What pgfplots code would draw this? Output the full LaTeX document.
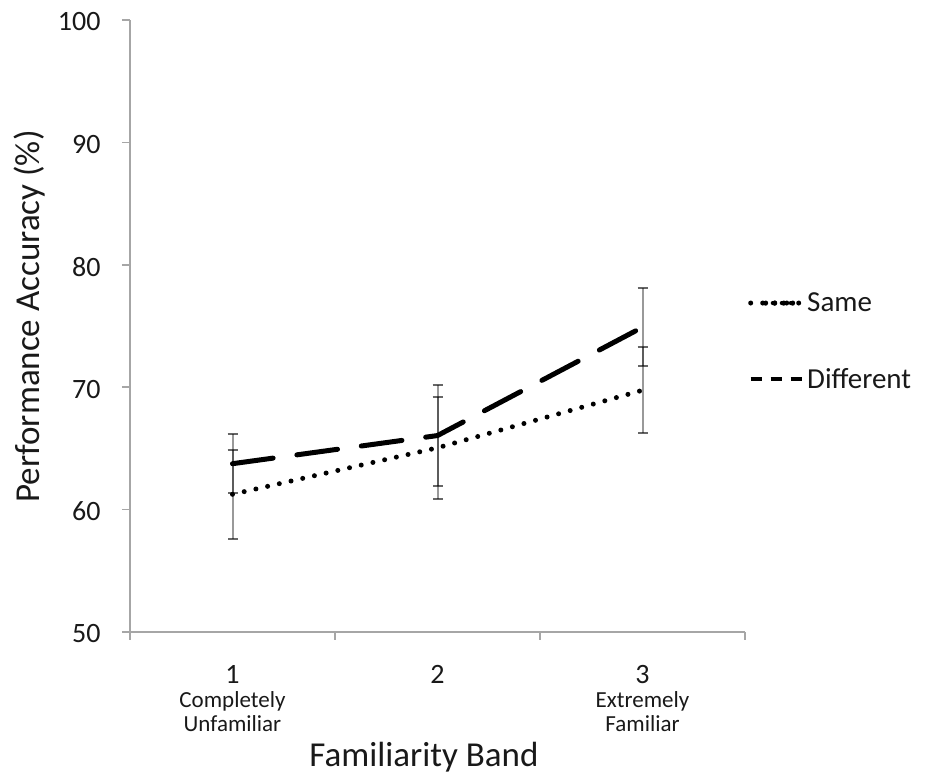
\documentclass[border=0pt]{standalone}
\usepackage{fontspec}
\setmainfont{Carlito}
\usepackage{pgfplots}
\pgfplotsset{compat=1.18}
\definecolor{axgray}{RGB}{166,166,166}
\definecolor{txt}{RGB}{25,25,25}
\newcommand{\bignum}[1]{{\fontsize{28}{24}\selectfont #1}}
\begin{document}
\begin{tikzpicture}
\path[use as bounding box] (0,0) rectangle (929pt,776pt);
\begin{axis}[
  at={(130pt,144pt)}, anchor=south west,
  scale only axis, width=615pt, height=612pt,
  xmin=0.5, xmax=3.5, ymin=50, ymax=100,
  axis lines=left,
  axis line style={-, axgray, line width=1.5pt},
  ytick={50,60,70,80,90,100},
  xtick={1,2,3},
  minor xtick={0.5,1.5,2.5,3.5},
  xticklabels={{\bignum{1}\\Completely\\Unfamiliar},{\bignum{2}},{\bignum{3}\\Extremely\\Familiar}},
  tick align=outside,
  major tick length=8pt, minor tick length=8pt,
  every tick/.style={axgray, line width=1.5pt},
  major x tick style={draw=none},
  /pgf/number format/assume math mode=true,
  yticklabel style={font=\fontsize{28}{32}\selectfont, text=txt, anchor=east, xshift=-18pt, yshift=-2pt},
  xticklabel style={font=\fontsize{23}{24}\selectfont, text=txt, align=center, anchor=north, yshift=-22pt},
  xlabel={Familiarity Band},
  ylabel={Performance Accuracy (\%)},
  xlabel style={font=\fontsize{35}{40}\selectfont, text=txt, at={(axis description cs:0.478,-0.205)}, anchor=center},
  ylabel style={font=\fontsize{35}{40}\selectfont, text=txt, at={(axis description cs:-0.164,0.5155)}, anchor=center},
  legend style={at={(axis description cs:1.0,0.561)}, anchor=north west, draw=none, fill=none,
    font=\fontsize{29}{34}\selectfont, text=txt, row sep=51pt},
  legend cell align=left,
  clip=false,
]
\addplot[black, line width=5pt, line cap=round, dash pattern=on 0pt off 12pt,
  legend image code/.code={
    \fill[black] (13pt,0pt) circle (2pt);
    \fill[black] (22pt,0pt) circle (2pt);
    \fill[black] (31pt,0pt) circle (2pt);
    \fill[black] (40pt,0pt) circle (2pt);
    \path (0pt,0pt) -- (52pt,0pt);}]
  coordinates {(1,61.25) (2,65.05) (3,69.75)};
\addplot[black, line width=5pt, line cap=round, dash pattern=on 41pt off 24pt,
  legend image code/.code={
    \draw[black, line width=4pt, line cap=butt, dash pattern=on 11pt off 9pt] (0pt,0pt) -- (52pt,0pt);}]
  coordinates {(1,63.75) (2,66.05) (3,74.9)};
\legend{Same,Different}
% error bars (Same)
\addplot[forget plot, draw=none, mark=none,
  error bars/.cd, y dir=both, y explicit,
  error bar style={draw=black, line width=2pt, opacity=0.4, solid},
  error mark options={rotate=90, draw=black, line width=2pt, opacity=0.6, mark size=5pt, solid}]
  coordinates {(1,61.25) +- (0,3.65) (2,65.05) +- (0,4.15) (3,69.75) +- (0,3.5)};
% error bars (Different)
\addplot[forget plot, draw=none, mark=none,
  error bars/.cd, y dir=both, y explicit,
  error bar style={draw=black, line width=2pt, opacity=0.4, solid},
  error mark options={rotate=90, draw=black, line width=2pt, opacity=0.6, mark size=5pt, solid}]
  coordinates {(1,63.75) +- (0,2.4) (2,66.05) +- (0,4.15) (3,74.9) +- (0,3.2)};
\end{axis}
\end{tikzpicture}
\end{document}
